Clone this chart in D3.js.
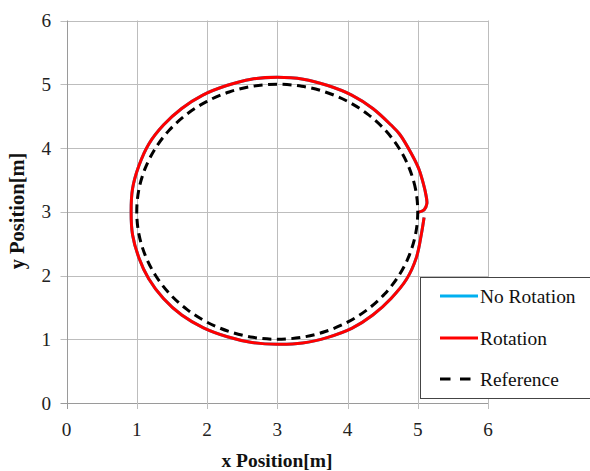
<!DOCTYPE html>
<html>
<head>
<meta charset="utf-8">
<script src="https://cdn.jsdelivr.net/npm/d3@7"></script>
<style>
  html, body { margin: 0; padding: 0; background: #fff; }
  svg { display: block; }
</style>
</head>
<body>
<svg id="chart" width="590" height="471"></svg>
<script>
// Axis ticks
const xTicks = [0, 1, 2, 3, 4, 5, 6];
const yTicks = [0, 1, 2, 3, 4, 5, 6];

// Reference path: circle of radius 2 around (3, 3), sampled every 10 degrees
const referenceX = [5.000, 4.970, 4.879, 4.732, 4.532, 4.286, 4.000, 3.684, 3.347, 3.000,
                    2.653, 2.316, 2.000, 1.714, 1.468, 1.268, 1.121, 1.030, 1.000,
                    1.030, 1.121, 1.268, 1.468, 1.714, 2.000, 2.316, 2.653, 3.000,
                    3.347, 3.684, 4.000, 4.286, 4.532, 4.732, 4.879, 4.970];
const referenceY = [3.000, 3.347, 3.684, 4.000, 4.286, 4.532, 4.732, 4.879, 4.970, 5.000,
                    4.970, 4.879, 4.732, 4.532, 4.286, 4.000, 3.684, 3.347, 3.000,
                    2.653, 2.316, 2.000, 1.714, 1.468, 1.268, 1.121, 1.030, 1.000,
                    1.030, 1.121, 1.268, 1.468, 1.714, 2.000, 2.316, 2.653];

// Measured trajectory with rotation (x, y in metres)
const rotationX = [5.00, 5.09, 5.13, 5.11, 5.07, 5.02, 4.92, 4.74, 4.62, 4.36, 4.06, 3.72,
                   3.37, 3.00, 2.63, 2.28, 1.94, 1.64, 1.38, 1.17, 1.03, 0.94, 0.92,
                   0.94, 1.03, 1.17, 1.38, 1.64, 1.95, 2.29, 2.64, 3.00, 3.36, 3.72,
                   4.06, 4.36, 4.62, 4.84, 4.98, 5.05, 5.09];
const rotationY = [2.99, 3.03, 3.13, 3.30, 3.48, 3.66, 3.89, 4.22, 4.36, 4.62, 4.83, 4.98,
                   5.08, 5.11, 5.08, 4.98, 4.83, 4.62, 4.36, 4.06, 3.72, 3.36, 3.00,
                   2.64, 2.28, 1.95, 1.64, 1.38, 1.18, 1.04, 0.95, 0.92, 0.94, 1.03,
                   1.17, 1.38, 1.64, 1.94, 2.28, 2.64, 2.91];

// Trajectory without rotation (coincides with the rotation run)
const noRotationX = rotationX.slice();
const noRotationY = rotationY.slice();

const seriesNames = ["No Rotation", "Rotation", "Reference"];

const FONT = "Liberation Serif";
const BASE = 24; // text is set at this size and scaled down
const svg = d3.select("#chart");

const x = d3.scaleLinear().domain([0, 6]).range([66.5, 488]);
const y = d3.scaleLinear().domain([0, 6]).range([403, 20.5]);

const gridColor = "#bdbdbd";
const axisColor = "#9a9a9a";

// Grid lines and tick marks
const grid = svg.append("g");
grid.selectAll("line.h").data(yTicks).join("line")
  .attr("x1", x(0) - 6).attr("x2", x(6))
  .attr("y1", d => Math.round(y(d)) + 0.5).attr("y2", d => Math.round(y(d)) + 0.5)
  .attr("stroke", d => d === 0 ? axisColor : gridColor).attr("stroke-width", 1);
grid.selectAll("line.v").data(xTicks).join("line")
  .attr("x1", d => Math.round(x(d)) + 0.5).attr("x2", d => Math.round(x(d)) + 0.5)
  .attr("y1", y(6)).attr("y2", y(0) + 6)
  .attr("stroke", d => d === 0 ? axisColor : gridColor).attr("stroke-width", 1);

// Tick labels
svg.append("g").selectAll("text").data(yTicks).join("text")
  .attr("transform", d => `translate(51,${y(d) + 6.5}) scale(0.8)`)
  .attr("text-anchor", "end").attr("font-family", FONT)
  .attr("font-size", BASE).attr("fill", "#222")
  .text(d => d);
svg.append("g").selectAll("text").data(xTicks).join("text")
  .attr("transform", d => `translate(${x(d)},436) scale(0.8)`)
  .attr("text-anchor", "middle").attr("font-family", FONT)
  .attr("font-size", BASE).attr("fill", "#222")
  .text(d => d);

// Axis titles
svg.append("text")
  .attr("x", 277).attr("y", 467)
  .attr("text-anchor", "middle").attr("font-weight", "bold").attr("font-family", FONT)
  .attr("font-size", 19.5).attr("fill", "#111")
  .text("x Position[m]");
svg.append("text")
  .attr("transform", "translate(24,211) rotate(-90)")
  .attr("text-anchor", "middle").attr("font-weight", "bold").attr("font-family", FONT)
  .attr("font-size", 20.5).attr("fill", "#111")
  .text("y Position[m]");

// Series
const pts = (xs, ys) => xs.map((v, i) => [v, ys[i]]);
const openLine = d3.line().x(d => x(d[0])).y(d => y(d[1])).curve(d3.curveCatmullRom.alpha(0.5));
const closedLine = d3.line().x(d => x(d[0])).y(d => y(d[1])).curve(d3.curveCatmullRomClosed.alpha(0.5));

const plot = svg.append("g").attr("fill", "none");
plot.append("path").attr("d", openLine(pts(noRotationX, noRotationY)))
  .attr("stroke", "#00b0f0").attr("stroke-width", 3);
plot.append("path").attr("d", openLine(pts(rotationX, rotationY)))
  .attr("stroke", "#ff0000").attr("stroke-width", 3).attr("stroke-linejoin", "round");
plot.append("path").attr("d", closedLine(pts(referenceX, referenceY)))
  .attr("stroke", "#000").attr("stroke-width", 3).attr("stroke-dasharray", "9,5.5");

// Legend
const legend = svg.append("g");
legend.append("rect")
  .attr("x", 420.5).attr("y", 277.5).attr("width", 200).attr("height", 121)
  .attr("fill", "#fff").attr("stroke", "#444").attr("stroke-width", 1);
const legendStyles = [
  { color: "#00b0f0", dash: null },
  { color: "#ff0000", dash: null },
  { color: "#000", dash: "10.5,9.5" }
];
const rowY = [296, 338, 379];
seriesNames.forEach((name, i) => {
  legend.append("line")
    .attr("x1", 440).attr("x2", 478).attr("y1", rowY[i]).attr("y2", rowY[i])
    .attr("stroke", legendStyles[i].color).attr("stroke-width", 3)
    .attr("stroke-dasharray", legendStyles[i].dash);
  legend.append("text")
    .attr("transform", `translate(480,${rowY[i] + 7}) scale(0.81)`)
    .attr("font-family", FONT)
    .attr("font-size", BASE).attr("fill", "#111")
    .text(name);
});
</script>
</body>
</html>
